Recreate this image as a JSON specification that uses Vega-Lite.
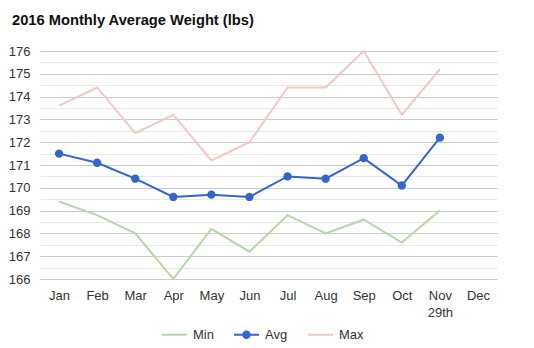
{
  "$schema": "https://vega.github.io/schema/vega-lite/v6.json",
  "width": 457,
  "height": 228,
  "autosize": {"type": "none"},
  "padding": {"left": 40, "top": 51, "right": 37, "bottom": 69},
  "background": "white",
  "title": {
    "text": "2016 Monthly Average Weight (lbs)",
    "anchor": "start",
    "frame": "group",
    "dx": -28,
    "offset": 5,
    "baseline": "alphabetic",
    "font": "Liberation Sans",
    "fontSize": 14.7,
    "fontWeight": "bold",
    "color": "#111"
  },
  "config": {
    "view": {"stroke": null},
    "font": "Liberation Sans"
  },
  "data": {
    "values": [
      {"month": "Jan", "series": "Min", "value": 169.4},
      {"month": "Feb", "series": "Min", "value": 168.8},
      {"month": "Mar", "series": "Min", "value": 168.0},
      {"month": "Apr", "series": "Min", "value": 166.0},
      {"month": "May", "series": "Min", "value": 168.2},
      {"month": "Jun", "series": "Min", "value": 167.2},
      {"month": "Jul", "series": "Min", "value": 168.8},
      {"month": "Aug", "series": "Min", "value": 168.0},
      {"month": "Sep", "series": "Min", "value": 168.6},
      {"month": "Oct", "series": "Min", "value": 167.6},
      {"month": "Nov", "series": "Min", "value": 169.0},
      {"month": "Jan", "series": "Avg", "value": 171.5},
      {"month": "Feb", "series": "Avg", "value": 171.1},
      {"month": "Mar", "series": "Avg", "value": 170.4},
      {"month": "Apr", "series": "Avg", "value": 169.6},
      {"month": "May", "series": "Avg", "value": 169.7},
      {"month": "Jun", "series": "Avg", "value": 169.6},
      {"month": "Jul", "series": "Avg", "value": 170.5},
      {"month": "Aug", "series": "Avg", "value": 170.4},
      {"month": "Sep", "series": "Avg", "value": 171.3},
      {"month": "Oct", "series": "Avg", "value": 170.1},
      {"month": "Nov", "series": "Avg", "value": 172.2},
      {"month": "Jan", "series": "Max", "value": 173.6},
      {"month": "Feb", "series": "Max", "value": 174.4},
      {"month": "Mar", "series": "Max", "value": 172.4},
      {"month": "Apr", "series": "Max", "value": 173.2},
      {"month": "May", "series": "Max", "value": 171.2},
      {"month": "Jun", "series": "Max", "value": 172.0},
      {"month": "Jul", "series": "Max", "value": 174.4},
      {"month": "Aug", "series": "Max", "value": 174.4},
      {"month": "Sep", "series": "Max", "value": 176.0},
      {"month": "Oct", "series": "Max", "value": 173.2},
      {"month": "Nov", "series": "Max", "value": 175.2}
    ]
  },
  "encoding": {
    "x": {
      "field": "month",
      "type": "ordinal",
      "sort": ["Jan","Feb","Mar","Apr","May","Jun","Jul","Aug","Sep","Oct","Nov","Dec"],
      "scale": {"type": "point", "domain": ["Jan","Feb","Mar","Apr","May","Jun","Jul","Aug","Sep","Oct","Nov","Dec"], "padding": 0.5},
      "axis": {
        "title": null,
        "labelAngle": 0,
        "domain": false,
        "ticks": false,
        "grid": false,
        "labelFontSize": 13,
        "labelColor": "#333",
        "labelPadding": 10,
        "labelLineHeight": 17,
        "labelExpr": "datum.value == 'Nov' ? ['Nov', '29th'] : datum.value"
      }
    },
    "y": {
      "field": "value",
      "type": "quantitative",
      "scale": {"domain": [166, 176], "zero": false, "nice": false},
      "axis": {
        "title": null,
        "values": [166,166.5,167,167.5,168,168.5,169,169.5,170,170.5,171,171.5,172,172.5,173,173.5,174,174.5,175,175.5,176],
        "labelExpr": "datum.value % 1 ? '' : format(datum.value, 'd')",
        "domain": false,
        "ticks": false,
        "labelFontSize": 13,
        "labelColor": "#333",
        "labelPadding": 10,
        "gridColor": {"condition": {"test": "datum.value % 1 !== 0", "value": "#e8e8e8"}, "value": "#cccccc"},
        "gridOpacity": 1
      }
    },
    "color": {
      "field": "series",
      "type": "nominal",
      "scale": {"domain": ["Min","Avg","Max"], "range": ["#b6d7a8","#3366cc","#f4c7c3"]},
      "legend": {
        "title": null,
        "orient": "none",
        "legendX": 122,
        "legendY": 271,
        "direction": "horizontal",
        "labelFontSize": 13,
        "labelColor": "#333",
        "labelOffset": 6,
        "columnPadding": 20,
        "symbolSize": 625,
        "symbolStrokeWidth": 0,
        "encode": {
          "symbols": {
            "update": {
              "fill": {"scale": "color", "field": "value"},
              "fillOpacity": {"value": 1},
              "strokeWidth": {"value": 0},
              "shape": {"signal": "datum.value === 'Avg' ? 'M-1,-0.08H1V0.08H-1Z M0.34,0A0.34,0.34 0 1,1 -0.34,0A0.34,0.34 0 1,1 0.34,0Z' : 'M-1,-0.08H1V0.08H-1Z'"}
            }
          }
        }
      }
    }
  },
  "layer": [
    {
      "mark": {"type": "line", "strokeWidth": 2},
      "encoding": {}
    },
    {
      "transform": [{"filter": "datum.series === 'Avg'"}],
      "mark": {"type": "point", "filled": true, "opacity": 1, "size": 70},
      "encoding": {}
    }
  ]
}
